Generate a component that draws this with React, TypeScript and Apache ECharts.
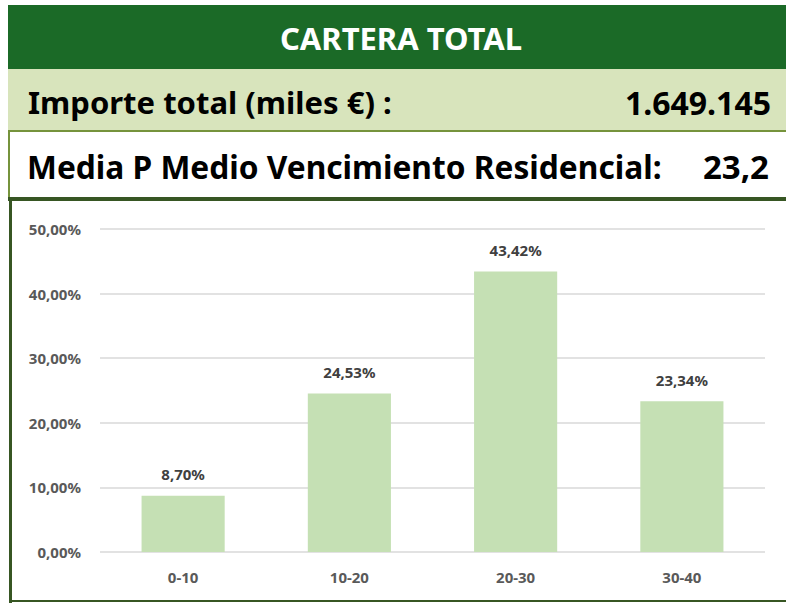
import React, { useEffect, useRef } from "react";
import * as echarts from "echarts";

const categories = ["0-10", "10-20", "20-30", "30-40"];
const values = [8.7, 24.53, 43.42, 23.34];
const headerTitle = "CARTERA TOTAL";
const importeLabel = "Importe total (miles €) :";
const importeValue = "1.649.145";
const mediaLabel = "Media P Medio Vencimiento Residencial:";
const mediaValue = "23,2";

const fmt = (v: number) => v.toFixed(2).replace(".", ",") + "%";

export default function App() {
  const ref = useRef<HTMLDivElement>(null);
  useEffect(() => {
    if (!ref.current) return;
    const chart = echarts.init(ref.current, null, { renderer: "svg" });
    const font = "'Noto Sans', 'Open Sans', sans-serif";
    chart.setOption({
      animation: false,
      backgroundColor: "#ffffff",
      textStyle: { fontFamily: font },
      grid: { left: 100, right: 21, top: 229, bottom: 51 },
      xAxis: {
        type: "category",
        data: categories,
        axisLine: { show: false },
        axisTick: { show: false },
        axisLabel: {
          color: "#595959",
          fontWeight: "bold",
          fontSize: 15,
          fontFamily: font,
          margin: 17,
        },
      },
      yAxis: {
        type: "value",
        min: 0,
        max: 50,
        interval: 10,
        axisLine: { show: false },
        axisTick: { show: false },
        splitLine: { lineStyle: { color: "#d9d9d9", width: 1.5 } },
        axisLabel: {
          color: "#595959",
          fontWeight: "bold",
          fontSize: 15,
          fontFamily: font,
          margin: 19,
          formatter: (v: number) => fmt(v),
        },
      },
      series: [
        {
          type: "bar",
          data: values,
          barWidth: "50%",
          itemStyle: { color: "#c5e0b4" },
          label: {
            show: true,
            position: "top",
            distance: 14,
            color: "#404040",
            fontWeight: "bold",
            fontSize: 15,
            fontFamily: font,
            formatter: (p: any) => fmt(p.value),
          },
        },
      ],
      graphic: [
        { type: "rect", shape: { x: 8, y: 5, width: 778, height: 64 }, style: { fill: "#1b6a27" }, z: 10 },
        { type: "rect", shape: { x: 8, y: 69, width: 778, height: 61 }, style: { fill: "#d8e4bc" }, z: 10 },
        { type: "rect", shape: { x: 8, y: 130, width: 778, height: 2 }, style: { fill: "#76933c" }, z: 11 },
        { type: "rect", shape: { x: 8, y: 132, width: 2, height: 66 }, style: { fill: "#76933c" }, z: 11 },
        { type: "rect", shape: { x: 8, y: 197, width: 778, height: 4 }, style: { fill: "#375623" }, z: 11 },
        { type: "rect", shape: { x: 9, y: 197, width: 3, height: 406 }, style: { fill: "#375623" }, z: 11 },
        { type: "rect", shape: { x: 9, y: 600, width: 777, height: 2 }, style: { fill: "#375623" }, z: 11 },
        {
          type: "text", x: 401, y: 38, z: 12,
          style: { text: headerTitle, fill: "#ffffff", font: `bold 31px ${font}`, align: "center", verticalAlign: "middle" },
        },
        {
          type: "text", x: 28, y: 102, z: 12,
          style: { text: importeLabel, fill: "#000000", font: `bold 31px ${font}`, align: "left", verticalAlign: "middle" },
        },
        {
          type: "text", x: 771, y: 102, z: 12,
          style: { text: importeValue, fill: "#000000", font: `bold 32px ${font}`, align: "right", verticalAlign: "middle" },
        },
        {
          type: "text", x: 27, y: 166, z: 12,
          style: { text: mediaLabel, fill: "#000000", font: `bold 31.7px ${font}`, align: "left", verticalAlign: "middle" },
        },
        {
          type: "text", x: 769, y: 166, z: 12,
          style: { text: mediaValue, fill: "#000000", font: `bold 33px ${font}`, align: "right", verticalAlign: "middle" },
        },
      ],
    });
    return () => chart.dispose();
  }, []);
  return <div ref={ref} style={{ position: "fixed", left: 0, top: 0, width: 786, height: 603 }} />;
}
